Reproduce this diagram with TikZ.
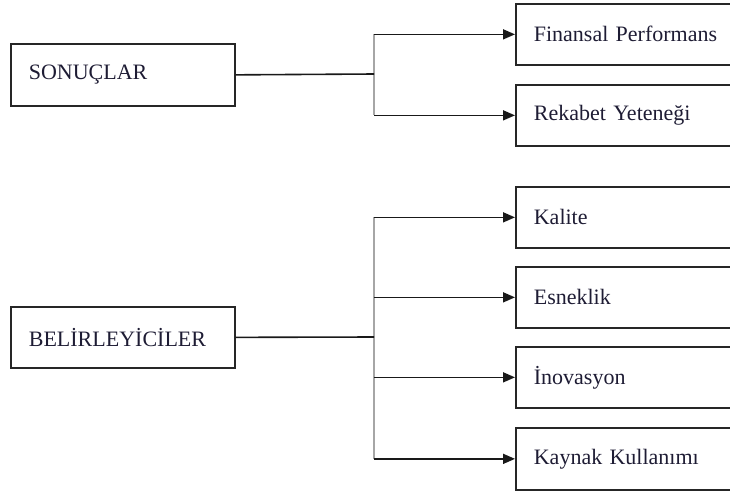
\documentclass[tikz,border=0pt]{standalone}
\usepackage{fontspec}
\setmainfont{Liberation Serif}
\usetikzlibrary{arrows.meta}
\definecolor{ink}{RGB}{30,28,52}
\begin{document}
\begin{tikzpicture}[x=1pt,y=-1pt,
  box/.style={draw=black!85, line width=1.7pt, anchor=north west,
    minimum height=61pt, inner xsep=18pt, inner ysep=0pt,
    text width=188pt, align=left, text=ink,
    font=\fontsize{22}{26}\selectfont},
  link/.style={line width=1.6pt, black!90},
  arr/.style={link, -{Triangle[length=12pt,width=10pt]}},
  spine/.style={line width=2pt, black!35}]
  \useasboundingbox (0,0) rectangle (730,493);
  \clip (0,0) rectangle (730,493);

  % outcome side
  \node[box, minimum height=62pt] (s1) at (10,43) {SONUÇLAR};
  \node[box] (t1) at (515,3)   {Finansal Performans};
  \node[box] (t2) at (515,84)  {Rekabet Yeteneği};

  % determinant side
  \node[box] (s2) at (10,306)  {BELİRLEYİCİLER};
  \node[box] (t3) at (515,186) {Kalite};
  \node[box] (t4) at (515,266) {Esneklik};
  \node[box] (t5) at (515,346) {İnovasyon};
  \node[box, minimum height=62pt] (t6) at (515,427) {Kaynak Kullanımı};

  \coordinate (j1) at (374,74);
  \coordinate (j2) at (374,337);

  % branching connectors
  \draw[spine] (j1 |- t1.west) -- (j1 |- t2.west);
  \draw[link] (s1.east) -- (j1);
  \foreach \t in {t1,t2} \draw[arr] (j1 |- \t.west) -- (\t.west);

  \draw[spine] (j2 |- t3.west) -- (j2 |- t6.west);
  \draw[link] (s2.east) -- (j2);
  \foreach \t in {t3,t4,t5,t6} \draw[arr] (j2 |- \t.west) -- (\t.west);
\end{tikzpicture}
\end{document}
